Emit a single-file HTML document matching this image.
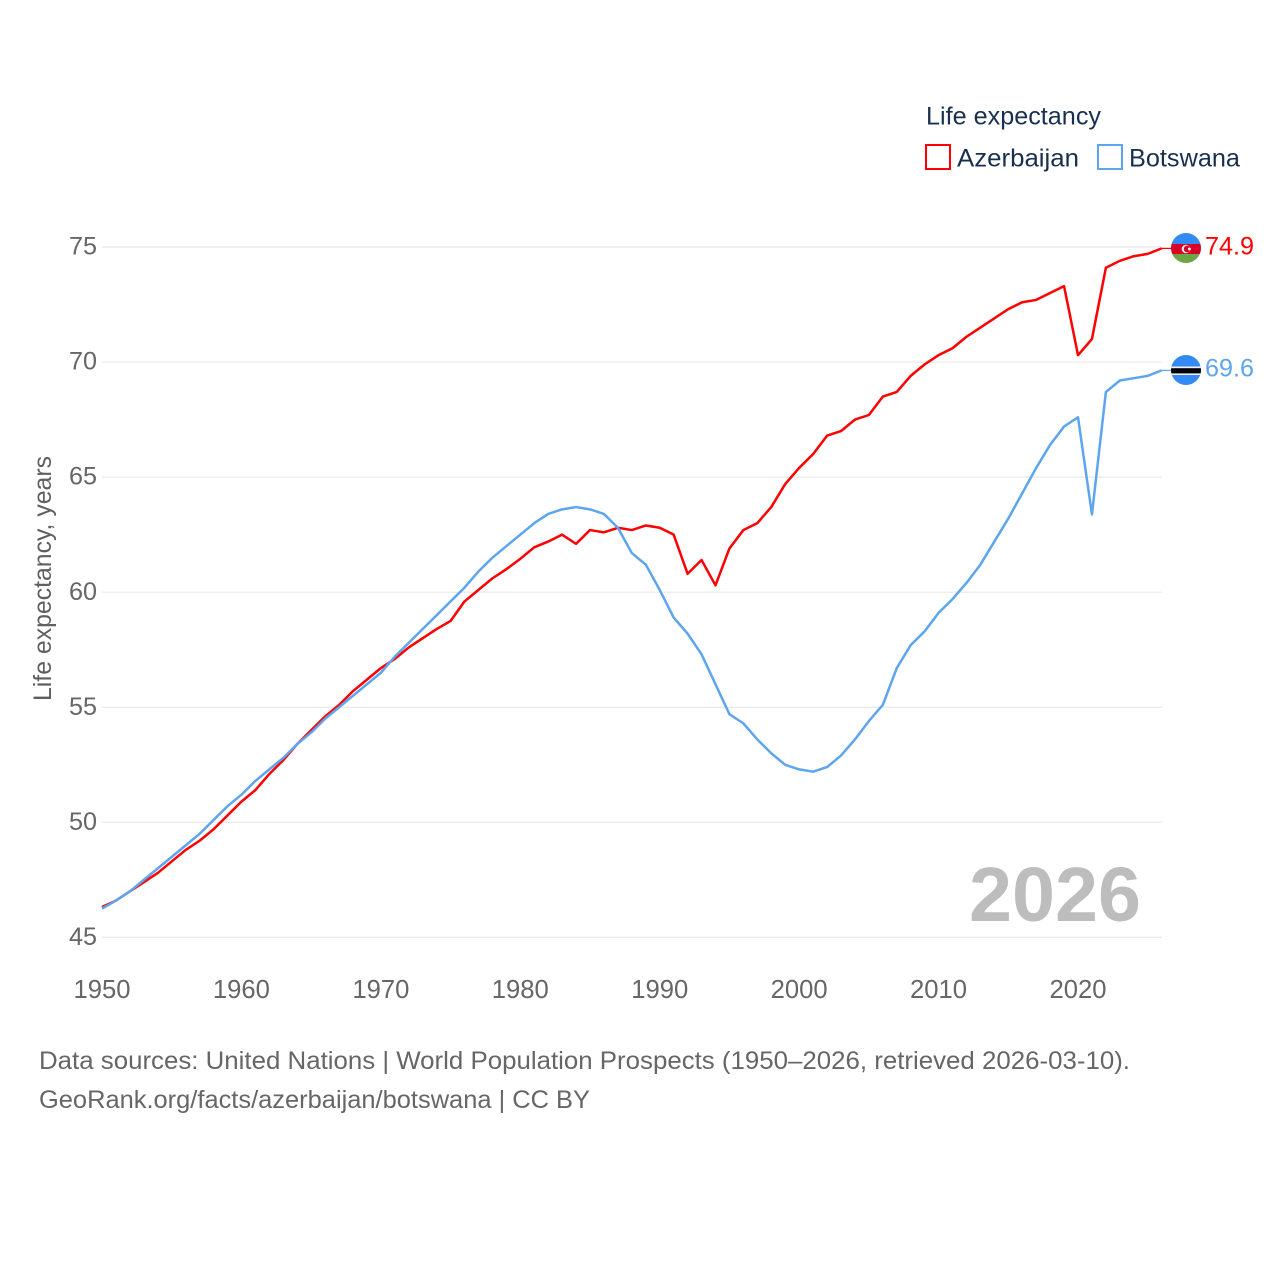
<!DOCTYPE html>
<html lang="en">
<head>
<meta charset="utf-8">
<title>Life expectancy: Azerbaijan and Botswana</title>
<style>
html,body{margin:0;padding:0;background:#fff;}
svg{display:block;font-family:"Liberation Sans",sans-serif;}
</style>
</head>
<body>
<svg id="chart" width="1280" height="1280" viewBox="0 0 1280 1280" xmlns="http://www.w3.org/2000/svg">
  <rect x="0" y="0" width="1280" height="1280" fill="#fff"/>
  <g id="grid"></g>
  <g id="yticks"></g>
  <g id="xticks"></g>
  <text transform="translate(51,701) rotate(-90)" font-size="25" fill="#5f5f5f" textLength="245" lengthAdjust="spacingAndGlyphs">Life expectancy, years</text>
  <text x="969" y="921" font-size="77" font-weight="700" fill="#bdbdbd" textLength="172" lengthAdjust="spacingAndGlyphs">2026</text>
  <g id="series"></g>

  <g id="legend">
    <text x="926" y="124.5" font-size="25" fill="#18304f" textLength="175" lengthAdjust="spacingAndGlyphs">Life expectancy</text>
    <rect x="926" y="145" width="24" height="24" fill="#fff" stroke="#ff0000" stroke-width="2"/>
    <text x="957" y="166.5" font-size="25" fill="#18304f" textLength="122" lengthAdjust="spacingAndGlyphs">Azerbaijan</text>
    <rect x="1098" y="145" width="24" height="24" fill="#fff" stroke="#5da5ee" stroke-width="2"/>
    <text x="1129" y="166.5" font-size="25" fill="#18304f" textLength="111" lengthAdjust="spacingAndGlyphs">Botswana</text>
  </g>

  <defs>
    <clipPath id="clip-az"><circle id="clip-az-c" cx="1186" cy="248" r="15"/></clipPath>
    <clipPath id="clip-bw"><circle id="clip-bw-c" cx="1186" cy="370" r="15"/></clipPath>
  </defs>
  <g id="flag-az" clip-path="url(#clip-az)">
    <rect x="1171" y="233" width="30" height="11" fill="#338af3"/>
    <rect x="1171" y="244" width="30" height="10" fill="#d80027"/>
    <rect x="1171" y="254" width="30" height="10" fill="#6da544"/>
    <circle cx="1186" cy="249" r="4.3" fill="#f0f0f0"/>
    <circle cx="1187.2" cy="249" r="3.4" fill="#d80027"/>
    <circle cx="1189.4" cy="249" r="1.5" fill="#f0f0f0"/>
  </g>
  <g id="flag-bw" clip-path="url(#clip-bw)">
    <rect x="1171" y="355" width="30" height="30" fill="#338af3"/>
    <rect x="1171" y="366.5" width="30" height="8.5" fill="#f0f0f0"/>
    <rect x="1171" y="368.2" width="30" height="5.2" fill="#000"/>
  </g>
  <g id="endlabels"></g>

  <g>
    <text x="39" y="1069" font-size="25" fill="#666" textLength="1091" lengthAdjust="spacingAndGlyphs">Data sources: United Nations | World Population Prospects (1950–2026, retrieved 2026-03-10).</text>
    <text x="39" y="1108" font-size="25" fill="#666" textLength="551" lengthAdjust="spacingAndGlyphs">GeoRank.org/facts/azerbaijan/botswana | CC BY</text>
  </g>
</svg>
<script>
const startYear = 1950;
const azerbaijan = [46.32,46.6,47.0,47.4,47.8,48.3,48.8,49.2,49.7,50.3,50.9,51.4,52.1,52.7,53.4,54.0,54.6,55.1,55.7,56.2,56.7,57.1,57.6,58.0,58.4,58.75,59.6,60.1,60.6,61.0,61.45,61.95,62.2,62.5,62.1,62.7,62.6,62.8,62.7,62.9,62.8,62.5,60.8,61.4,60.3,61.9,62.7,63.0,63.7,64.7,65.4,66.0,66.8,67.0,67.5,67.7,68.5,68.7,69.4,69.9,70.3,70.6,71.1,71.5,71.9,72.3,72.6,72.7,73.0,73.3,70.3,71.0,74.1,74.4,74.6,74.7,74.94];
const botswana = [46.25,46.6,47.0,47.5,48.0,48.5,49.0,49.5,50.1,50.7,51.2,51.8,52.3,52.8,53.4,53.9,54.5,55.0,55.5,56.0,56.5,57.2,57.8,58.4,59.0,59.6,60.2,60.9,61.5,62.0,62.5,63.0,63.4,63.6,63.7,63.6,63.4,62.8,61.7,61.2,60.1,58.9,58.2,57.3,56.0,54.7,54.3,53.6,53.0,52.5,52.3,52.2,52.4,52.9,53.6,54.4,55.1,56.7,57.7,58.3,59.1,59.7,60.4,61.2,62.2,63.2,64.3,65.4,66.4,67.2,67.6,63.38,68.7,69.2,69.3,69.4,69.64];
const yTicks = [45,50,55,60,65,70,75];
const xTicks = [1950,1960,1970,1980,1990,2000,2010,2020];

const NS = 'http://www.w3.org/2000/svg';
const xScale = yr => 102 + (yr - 1950) * (1078 - 102) / 70;
const yScale = v => 937.4 - (v - 45) * (937.4 - 247) / 30;

function make(tag, attrs, parent, content) {
  const el = document.createElementNS(NS, tag);
  for (const k in attrs) el.setAttribute(k, attrs[k]);
  if (content !== undefined) el.textContent = content;
  parent.appendChild(el);
  return el;
}

const grid = document.getElementById('grid');
const yG = document.getElementById('yticks');
const xG = document.getElementById('xticks');
const seriesG = document.getElementById('series');
const endG = document.getElementById('endlabels');
const lastYear = startYear + azerbaijan.length - 1;

yTicks.forEach(t => {
  const line = make('line', {x1: xScale(startYear), x2: xScale(lastYear), y1: yScale(t), y2: yScale(t), stroke: '#e8e8e8', 'stroke-width': 1.2}, grid);
  
  
  const label = make('text', {x: 97, y: yScale(t) + 7.6, 'font-size': 25, fill: '#666', 'text-anchor': 'end', textLength: 28, lengthAdjust: 'spacingAndGlyphs'}, yG, String(t));
  
  
});

xTicks.forEach(t => {
  const label = make('text', {x: xScale(t), y: 998, 'font-size': 25.5, fill: '#666', 'text-anchor': 'middle', textLength: 57, lengthAdjust: 'spacingAndGlyphs'}, xG, String(t));
  
  
});

function drawSeries(values, color, key) {
  const d = values.map((v, i) => (i ? 'L' : 'M') + xScale(startYear + i).toFixed(2) + ' ' + yScale(v).toFixed(2)).join(' ');
  const path = make('path', {d: d, fill: 'none', stroke: color, 'stroke-width': 2.5, 'stroke-linejoin': 'round'}, seriesG);
  
  
  const last = values[values.length - 1];
  const conn = make('line', {x1: xScale(lastYear), x2: 1172, y1: yScale(last), y2: yScale(last), stroke: color, 'stroke-width': 1.2}, seriesG);
  
  
  const label = make('text', {x: 1205, y: yScale(last) + 6, 'font-size': 25, fill: color, textLength: 49, lengthAdjust: 'spacingAndGlyphs'}, endG, (Math.round(last * 10) / 10).toFixed(1));
  
  
}
drawSeries(azerbaijan, '#ff0000', 'azerbaijan');
drawSeries(botswana, '#5da5ee', 'botswana');
</script>
</body>
</html>
